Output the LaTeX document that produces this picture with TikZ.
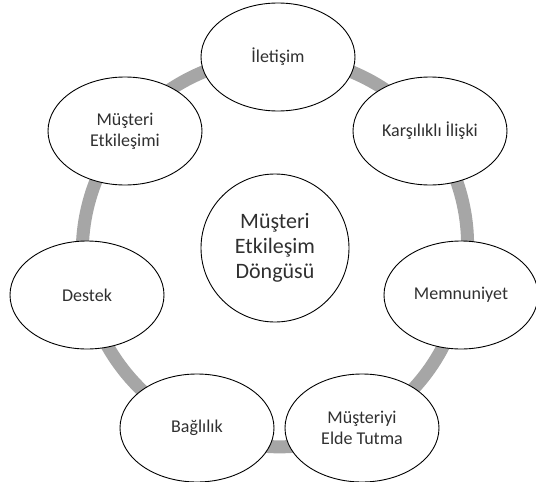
\documentclass[tikz,border=0pt]{standalone}
\usepackage{fontspec}
\setmainfont{Carlito}
\usetikzlibrary{shapes.geometric,backgrounds}
\definecolor{ringgray}{HTML}{A6A6A6}
\definecolor{txt}{HTML}{303030}
\tikzset{
  cyc/.style={ellipse, draw=black, line width=0.9pt, fill=white, minimum width=154pt, minimum height=108pt, inner sep=0pt, align=center, text=txt, font=\fontsize{18}{21}\selectfont},
  hub/.style={circle, draw=black, line width=0.9pt, fill=white, minimum size=148pt, inner sep=0pt, align=center, text=txt, font=\fontsize{22}{25}\selectfont},
  ring/.style={draw=ringgray, line width=13pt, bend left=25.7, looseness=0.9}
}
\begin{document}
\begin{tikzpicture}[x=1pt,y=-1pt]
\useasboundingbox (0,0) rectangle (536,482);
\node[hub] (hub) at (275,248) {Müşteri\\Etkileşim\\Döngüsü};
\node[cyc] (ilet) at (278,57) {İletişim};
\node[cyc] (kars) at (430,131) {Karşılıklı İlişki};
\node[cyc] (memn) at (461,295) {Memnuniyet};
\node[cyc] (elde) at (362,428) {Müşteriyi\\Elde Tutma};
\node[cyc] (bagl) at (197,428) {Bağlılık};
\node[cyc] (dest) at (87,295) {Destek};
\node[cyc] (must) at (125,131) {Müşteri\\Etkileşimi};
\begin{scope}[on background layer]
\draw[ring] (ilet.center) to (kars.center);
\draw[ring] (kars.center) to (memn.center);
\draw[ring] (memn.center) to (elde.center);
\draw[ring] (elde.center) to (bagl.center);
\draw[ring] (bagl.center) to (dest.center);
\draw[ring] (dest.center) to (must.center);
\draw[ring] (must.center) to (ilet.center);
\end{scope}
\end{tikzpicture}
\end{document}
